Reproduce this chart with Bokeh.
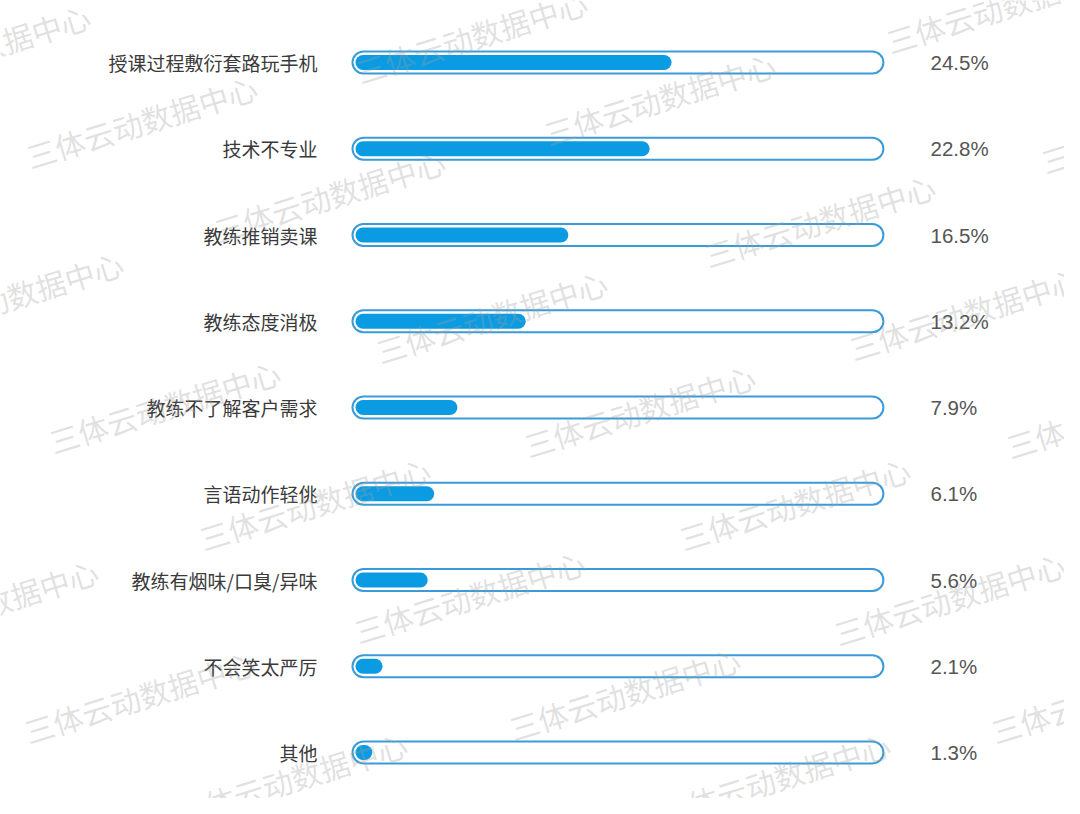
from bokeh.plotting import figure
from bokeh.models import Range1d, ColumnDataSource
from bokeh.core.properties import value
from bokeh.embed import file_html
from bokeh.resources import INLINE

# ---- data ----
categories = ["授课过程敷衍套路玩手机", "技术不专业", "教练推销卖课", "教练态度消极",
              "教练不了解客户需求", "言语动作轻佻", "教练有烟味/口臭/异味", "不会笑太严厉", "其他"]
percents = [24.5, 22.8, 16.5, 13.2, 7.9, 6.1, 5.6, 2.1, 1.3]
pct_labels = ["24.5%", "22.8%", "16.5%", "13.2%", "7.9%", "6.1%", "5.6%", "2.1%", "1.3%"]
track_max = 41.0
watermark = "三体云动数据中心"

# ---- layout ----
W, H = 1064, 798
PX_PER_UNIT = 12.9      # pixels per percent point
X0_FRAME = 355          # frame px of 0%
ROW0_FRAME = 62         # frame px of first row
ROW_STEP = 86.25

x_start = -X0_FRAME / PX_PER_UNIT
x_end = x_start + W / PX_PER_UNIT
y_top = ROW0_FRAME / ROW_STEP
y_bot = y_top - H / ROW_STEP

def px(dx):
    return dx / PX_PER_UNIT

p = figure(width=W, height=H, output_backend="svg", toolbar_location=None,
           x_range=Range1d(x_start, x_end), y_range=Range1d(y_bot, y_top),
           min_border=0, outline_line_color=None)
p.axis.visible = False
p.grid.visible = False
p.background_fill_color = "white"
p.border_fill_color = "white"

n = len(categories)
ys = [-i for i in range(n)]

# track (outline ring)
cap_out = px(12)
src_track = ColumnDataSource(dict(x0=[-px(4) + cap_out] * n, x1=[track_max - cap_out] * n, y=ys))
p.segment(x0="x0", y0="y", x1="x1", y1="y", source=src_track,
          line_width=24, line_cap="round", line_color="#3a9bd8")
p.segment(x0="x0", y0="y", x1="x1", y1="y", source=src_track,
          line_width=20, line_cap="round", line_color="white")

# value bars
cap_in = px(7.5)
src_bar = ColumnDataSource(dict(x0=[cap_in] * n,
                                x1=[max(v - cap_in, cap_in + 0.01) for v in percents], y=ys))
p.segment(x0="x0", y0="y", x1="x1", y1="y", source=src_bar,
          line_width=15, line_cap="round", line_color="#0b9be2")

# category labels
p.text(x=[px(317 - 355)] * n, y=ys, text=categories, text_align="right",
       text_baseline="middle", text_font=value("Noto Sans CJK SC"),
       text_font_size="19px", text_color="#3a3a3a")

# percent labels
p.text(x=[px(930 - 355)] * n, y=ys, text=pct_labels, text_align="left",
       text_baseline="middle", text_font=value("Liberation Sans"),
       text_font_size="20.5px", text_color="#555555")

# watermark (page pixel centres)
wm_px = [(-25, 52), (472, 38), (1002, 8), (142, 123), (660, 100), (1157, 128),
         (330, 197), (820, 222), (8, 299), (492, 318), (965, 315), (165, 408),
         (640, 412), (1122, 413), (315, 505), (795, 505), (-17, 607), (470, 598),
         (950, 600), (140, 698), (625, 695), (1107, 698), (292, 780), (775, 780)]
wx = [px(a - 1 - 355) for a, b in wm_px]
wy = [-(b - 2 - 62) / ROW_STEP for a, b in wm_px]
p.text(x=wx, y=wy, text=[watermark] * len(wm_px), angle=0.30,
       text_align="center", text_baseline="middle",
       text_font=value("Noto Sans CJK SC"), text_font_style="normal",
       text_font_size="30px", text_color="#a0a0a0", text_alpha=0.33)

open("out.html", "w").write(file_html(p, INLINE))
